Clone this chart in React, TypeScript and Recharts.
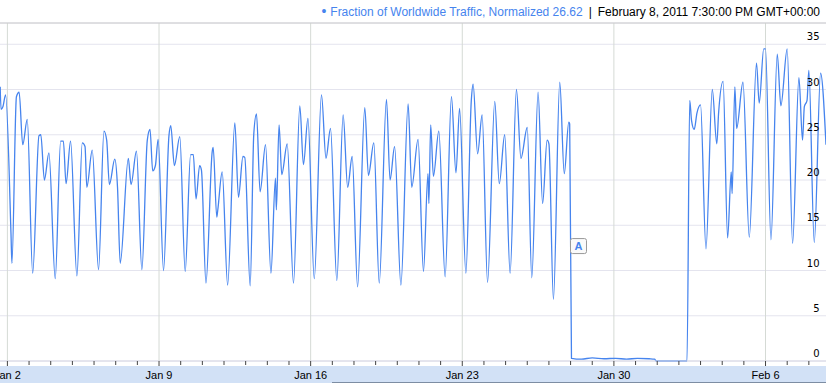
import React from 'react';
import {
  LineChart,
  Line,
  XAxis,
  YAxis,
  CartesianGrid,
  ReferenceLine,
  ReferenceDot,
} from 'recharts';

// hours since Jan 1 2011 00:00 GMT
const HOURS = [
  16, 17, 19, 22, 28, 29, 34, 37, 41, 46, 52, 59, 61, 65, 70, 77, 83, 86, 89, 94,
  101, 107, 110, 112, 118, 125, 131, 134, 137, 143, 146, 149, 158, 161, 167, 173, 179, 182, 185, 188,
  191, 197, 203, 205, 209, 215, 221, 227, 230, 233, 237, 239, 244, 251, 252, 256, 257, 262, 268, 276,
  280, 285, 287, 293, 297, 300, 304, 310, 316, 321, 322, 325, 328, 334, 341, 348, 352, 357, 364, 372,
  377, 382, 389, 396, 401, 406, 412, 420, 424, 430, 436, 444, 448, 453, 460, 468, 472, 479, 485, 490,
  491, 493, 496, 502, 509, 516, 521, 525, 532, 538, 540, 545, 550, 556, 564, 569, 575, 581, 588, 593,
  600, 605, 612, 617, 622, 624, 629, 636, 641, 646, 647, 649, 660, 672, 685, 698, 710, 722, 735, 741,
  743, 777, 780, 782, 785, 788, 792, 798, 805, 810, 812, 817, 822, 826, 827, 830, 832, 839, 846, 854,
  857, 862, 864, 870, 877, 881, 888, 894, 901, 905, 907, 910, 912, 918, 925, 931,
];

const TRAFFIC = [
  30.3, 27.8, 28.1, 29.4, 14.0, 10.8, 29.2, 29.7, 23.9, 26.7, 9.7, 24.9, 25.0, 20.0, 23.0, 9.1, 24.3, 24.3, 19.6, 24.3,
  9.4, 24.1, 23.7, 19.2, 23.3, 10.1, 25.4, 24.4, 19.5, 22.3, 19.2, 10.8, 22.4, 19.5, 23.2, 10.1, 24.4, 25.6, 21.0, 21.6,
  24.5, 10.0, 24.9, 26.0, 21.6, 24.8, 9.9, 22.8, 22.8, 17.9, 21.6, 21.1, 8.6, 23.2, 23.6, 15.9, 16.6, 20.9, 8.4, 26.3,
  18.1, 22.6, 22.5, 8.3, 25.1, 27.3, 18.7, 23.9, 9.7, 20.2, 16.7, 26.1, 20.6, 24.0, 8.6, 28.2, 21.7, 26.8, 9.1, 29.4,
  22.4, 25.7, 8.9, 27.2, 19.2, 22.6, 8.2, 28.0, 20.5, 24.1, 8.6, 28.9, 20.0, 23.7, 8.4, 28.4, 19.2, 24.5, 9.9, 20.7,
  17.4, 26.1, 20.4, 25.4, 9.3, 29.2, 20.8, 27.9, 9.7, 28.8, 30.6, 22.9, 27.2, 8.7, 28.7, 19.6, 25.0, 9.7, 30.0, 22.4,
  25.8, 9.2, 29.7, 17.4, 24.4, 24.0, 6.8, 30.8, 20.7, 26.4, 26.2, 0.3, 0.2, 0.35, 0.25, 0.3, 0.2, 0.3, 0.25, 0.2,
  0.0, 0.0, 28.8, 26.6, 25.6, 27.4, 28.3, 12.4, 30.0, 24.0, 27.4, 30.9, 13.6, 20.9, 18.5, 30.3, 25.7, 30.8, 13.7, 32.9,
  28.5, 34.5, 34.5, 13.4, 33.9, 28.2, 34.5, 13.0, 31.3, 24.4, 28.1, 28.8, 32.1, 13.1, 31.8, 23.9,
];

const WEEK_TICKS = [24, 192, 360, 528, 696, 864];
const WEEK_LABELS = ['Jan 2', 'Jan 9', 'Jan 16', 'Jan 23', 'Jan 30', 'Feb 6'];
const DAY_TICKS = Array.from({ length: 38 }, (_, i) => 24 + i * 24);
const Y_TICKS = [0, 5, 10, 15, 20, 25, 30, 35];

const FLAG_HOURS = [649];
const FLAG_LEVELS = [12.7];
const FLAG_LABELS = ['A'];

const SERIES_NAME = 'Fraction of Worldwide Traffic, Normalized';
const HOVER_VALUE = '26.62';
const HOVER_TIME = 'February 8, 2011 7:30:00 PM GMT+00:00';

const BLUE = '#4684ee';
const SANS = "Arial, 'Liberation Sans', sans-serif";

const data = HOURS.map((hour, i) => ({ hour, traffic: TRAFFIC[i] }));

function DayTick({ x, y, payload }: any) {
  const idx = WEEK_TICKS.indexOf(payload.value);
  return (
    <g>
      <line x1={x} x2={x} y1={y} y2={y + (idx >= 0 ? 5 : 4)} stroke="#444" />
      {idx >= 0 && (
        <text x={x} y={y + 18} textAnchor="middle" fontSize={11} fontFamily={SANS} fill="#000">
          {WEEK_LABELS[idx]}
        </text>
      )}
    </g>
  );
}

// value label drawn just above its gridline, at the right edge of the plot
function ValueLabel({ viewBox, value }: any) {
  const { x, y, width } = viewBox;
  return (
    <text
      x={x + width - 6.5}
      y={y - 4}
      textAnchor="end"
      fontSize={10}
      fontFamily="Verdana, 'DejaVu Sans', sans-serif"
      fill="#000"
    >
      {value}
    </text>
  );
}

function Flag({ cx, cy, text }: any) {
  return (
    <g>
      <rect x={cx - 1} y={cy - 7.5} width={16} height={15} rx={2} fill="#fafafa" stroke="#999" />
      <text x={cx + 7} y={cy + 4} textAnchor="middle" fontSize={11} fontWeight="bold" fontFamily={SANS} fill={BLUE}>
        {text}
      </text>
    </g>
  );
}

export default function App() {
  return (
    <div style={{ position: 'absolute', left: 0, top: 0, width: 826, height: 383, background: '#fff', overflow: 'hidden' }}>
      <div style={{ position: 'absolute', left: 0, top: 366, width: 826, height: 17, background: '#d2e1f6' }} />
      <div style={{ position: 'absolute', left: 332, top: 382, width: 494, height: 1, background: '#7d8da3' }} />
      <LineChart width={826} height={383} data={data} margin={{ top: 23, right: 0, bottom: 0, left: 0 }}>
        <CartesianGrid vertical={false} stroke="#e4e4ee" />
        {WEEK_TICKS.map((t) => (
          <ReferenceLine key={t} x={t} stroke="#d5dad5" />
        ))}
        <ReferenceLine y={37.35} stroke="#cccccc" />
        <XAxis
          dataKey="hour"
          type="number"
          domain={[15.8, 931]}
          allowDataOverflow
          ticks={DAY_TICKS}
          interval={0}
          height={22}
          tickSize={0}
          tickMargin={0}
          tickLine={false}
          axisLine={{ stroke: '#d8d8e4' }}
          tick={<DayTick />}
        />
        <YAxis hide width={0} domain={[0, 37.35]} ticks={Y_TICKS} />
        <Line
          type="monotone"
          dataKey="traffic"
          stroke={BLUE}
          strokeWidth={1.3}
          dot={false}
          activeDot={false}
          isAnimationActive={false}
        />
        {Y_TICKS.map((t) => (
          <ReferenceLine key={'v' + t} y={t} stroke="none" label={<ValueLabel value={t} />} />
        ))}
        {FLAG_HOURS.map((h, i) => (
          <ReferenceDot
            key={h}
            x={h}
            y={FLAG_LEVELS[i]}
            ifOverflow="visible"
            shape={(p: any) => <Flag cx={p.cx} cy={p.cy} text={FLAG_LABELS[i]} />}
          />
        ))}
      </LineChart>
      <div
        style={{
          position: 'absolute',
          right: 6,
          top: 4,
          fontFamily: SANS,
          fontSize: 12,
          lineHeight: '15px',
          whiteSpace: 'nowrap',
        }}
      >
        <span style={{ color: BLUE }}>
          <span style={{ marginRight: 4, fontSize: 14 }}>•</span>
          {SERIES_NAME} {HOVER_VALUE}
        </span>
        <span style={{ color: '#000', margin: '0 6px' }}>|</span>
        <span style={{ color: '#000' }}>{HOVER_TIME}</span>
      </div>
    </div>
  );
}
